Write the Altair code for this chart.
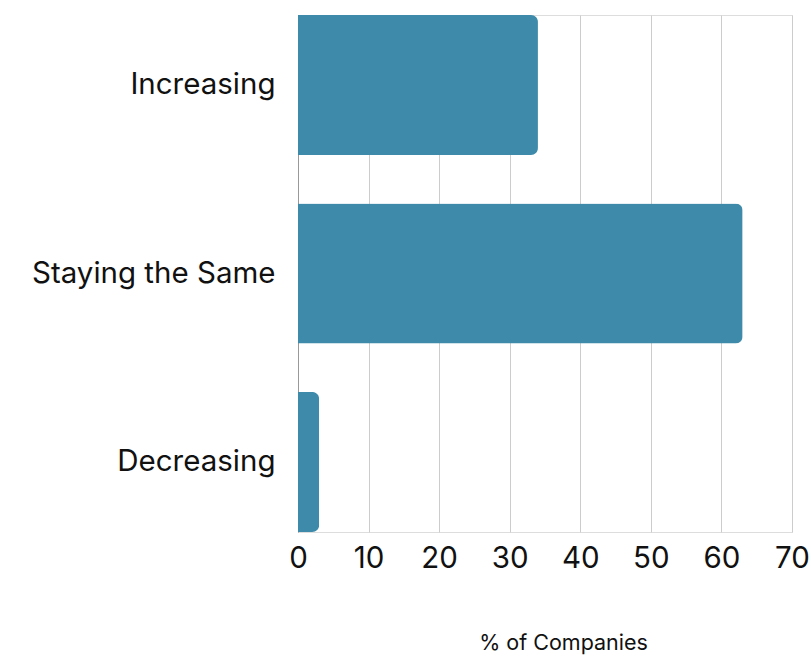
import altair as alt
import pandas as pd

categories = ["Increasing", "Staying the Same", "Decreasing"]
values = [34, 63, 3]
x_ticks = [0, 10, 20, 30, 40, 50, 60, 70]

df = pd.DataFrame({"category": categories, "pct": values})

FONT = "Inter"

chart = (
    alt.Chart(df)
    .mark_bar(color="#3d8aaa", cornerRadiusEnd=7)
    .encode(
        x=alt.X(
            "pct:Q",
            scale=alt.Scale(domain=[0, 70], nice=False, zero=True),
            axis=alt.Axis(
                values=x_ticks,
                title="% of Companies",
                titleFont=FONT,
                titleFontSize=21.5,
                titleFontWeight="normal",
                titleColor="#111111",
                titleX=265,
                titleY=111,
                titleBaseline="middle",
                labelFont=FONT,
                labelFontSize=29.5,
                labelColor="#111111",
                labelPadding=12,
                labelFlush=False,
                grid=True,
                gridColor="#cccccc",
                domain=False,
                ticks=False,
            ),
        ),
        y=alt.Y(
            "category:N",
            sort=categories,
            scale=alt.Scale(paddingInner=0.257, paddingOuter=0),
            axis=alt.Axis(
                title=None,
                labelFont=FONT,
                labelFontSize=29.5,
                labelColor="#111111",
                labelPadding=23,
                labelLimit=400,
                domain=True,
                domainColor="#999999",
                ticks=False,
                grid=False,
            ),
        ),
    )
    .properties(
        width=494,
        height=517,
        autosize=alt.AutoSizeParams(type="none"),
        padding={"left": 298, "top": 15, "right": 19, "bottom": 124},
    )
    .configure_view(stroke=None)
    .configure(background="white")
)

chart.save("out.html", embed_options={"renderer": "svg", "actions": False})
